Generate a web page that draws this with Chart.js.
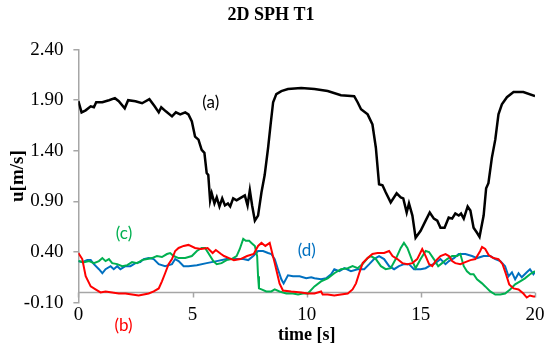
<!DOCTYPE html>
<html lang="en">
<head>
    <meta charset="UTF-8">
    <title>2D SPH T1</title>
    <script src="https://cdn.jsdelivr.net/npm/chart.js"></script>
    <style>
        body { margin: 0; background: #fff; }
        #wrap { width: 550px; height: 350px; }
    </style>
</head>
<body>
    <div id="wrap"><canvas id="chart"></canvas></div>

    <script>
        // (a) black
        const timeA = [0, 0.14, 0.32, 0.54, 0.68, 0.78, 1.05, 1.34, 1.6, 1.77, 2.03, 2.18, 2.5, 2.79, 3.11, 3.34, 3.52, 3.63, 3.83, 4.1,
            4.27, 4.46, 4.68, 4.82, 4.97, 5.11, 5.26, 5.4, 5.52, 5.62, 5.69, 5.77, 5.84, 5.96, 6.06, 6.18, 6.3, 6.42, 6.55, 6.65,
            6.78, 6.93, 7.07, 7.29, 7.41, 7.51, 7.61, 7.73, 7.87, 8.02, 8.16, 8.31, 8.42, 8.53, 8.67, 8.89, 9.18, 9.76, 10.34, 10.92,
            11.5, 12.08, 12.23, 12.38, 12.67, 12.88, 13.03, 13.17, 13.32, 13.46, 13.68, 13.94, 14.12, 14.23, 14.38, 14.48, 14.63, 14.77, 14.99, 15.21,
            15.39, 15.57, 15.72, 15.86, 16.04, 16.22, 16.37, 16.51, 16.66, 16.76, 16.88, 17.05, 17.17, 17.31, 17.46, 17.57, 17.75, 17.86, 17.96, 18.11,
            18.26, 18.4, 18.55, 18.77, 19.06, 19.49, 20];
        const valueA = [1.89, 1.78, 1.8, 1.84, 1.83, 1.88, 1.88, 1.9, 1.92, 1.89, 1.82, 1.9, 1.89, 1.87, 1.91, 1.84, 1.78, 1.83, 1.79, 1.74,
            1.78, 1.76, 1.78, 1.76, 1.69, 1.54, 1.51, 1.41, 1.38, 1.18, 1.16, 0.91, 0.98, 0.88, 0.94, 0.85, 0.93, 0.86, 0.88, 0.85,
            0.93, 0.91, 0.93, 0.96, 0.86, 1.01, 0.86, 0.71, 0.76, 0.99, 1.16, 1.43, 1.66, 1.88, 1.96, 1.99, 2.01, 2.02, 2.01, 1.99,
            1.95, 1.94, 1.88, 1.81, 1.76, 1.66, 1.43, 1.07, 1.06, 0.99, 0.89, 0.98, 0.94, 0.93, 0.79, 0.88, 0.76, 0.54, 0.61, 0.71,
            0.79, 0.73, 0.71, 0.64, 0.64, 0.74, 0.73, 0.78, 0.76, 0.78, 0.73, 0.85, 0.81, 0.64, 0.59, 0.55, 0.76, 1.03, 1.08, 1.33,
            1.51, 1.76, 1.86, 1.93, 1.98, 1.98, 1.94];

        // (b) red
        const timeB = [0, 0.17, 0.32, 0.54, 0.75, 0.97, 1.19, 1.48, 1.77, 2.06, 2.35, 2.64, 2.86, 3.08, 3.3, 3.52, 3.66, 3.8, 3.95, 4.1,
            4.24, 4.39, 4.61, 4.82, 5.11, 5.37, 5.66, 5.88, 6.02, 6.25, 6.38, 6.6, 6.81, 7.1, 7.39, 7.68, 7.87, 8.02, 8.19, 8.38,
            8.6, 8.81, 8.96, 9.32, 9.76, 10.05, 10.34, 10.63, 10.7, 10.92, 11.21, 11.5, 11.8, 12.01, 12.16, 12.3, 12.45, 12.67, 12.88, 13.1,
            13.39, 13.61, 13.76, 13.97, 14.19, 14.41, 14.63, 14.84, 15.06, 15.21, 15.36, 15.5, 15.64, 15.86, 16.08, 16.23, 16.37, 16.51, 16.73, 16.95,
            17.17, 17.39, 17.6, 17.68, 17.82, 17.97, 18.18, 18.4, 18.58, 18.73, 18.87, 19.06, 19.28, 19.49, 19.64, 19.78, 19.93, 20];
        const valueB = [0.39, 0.33, 0.16, 0.06, 0.03, 0.0, 0.01, 0.0, -0.01, -0.01, -0.02, -0.03, -0.02, -0.01, 0.01, 0.04, 0.11, 0.19, 0.28, 0.33,
            0.41, 0.44, 0.46, 0.47, 0.44, 0.43, 0.44, 0.39, 0.42, 0.38, 0.36, 0.34, 0.32, 0.33, 0.36, 0.38, 0.46, 0.49, 0.46, 0.49,
            0.29, 0.09, 0.02, 0.01, 0.0, -0.01, -0.01, 0.01, -0.02, -0.02, -0.03, -0.02, -0.01, 0.03, 0.09, 0.19, 0.29, 0.34, 0.38, 0.39,
            0.39, 0.41, 0.36, 0.33, 0.29, 0.28, 0.29, 0.33, 0.43, 0.36, 0.28, 0.26, 0.31, 0.36, 0.38, 0.36, 0.31, 0.29, 0.28, 0.3,
            0.32, 0.33, 0.41, 0.45, 0.43, 0.37, 0.34, 0.33, 0.28, 0.18, 0.08, 0.04, 0.03, -0.01, -0.05, -0.03, -0.04, -0.04];

        // (c) green
        const timeC = [0, 0.25, 0.47, 0.68, 0.9, 1.05, 1.19, 1.34, 1.48, 1.7, 1.92, 2.14, 2.35, 2.57, 2.79, 3.01, 3.22, 3.44, 3.66, 3.88,
            4.02, 4.17, 4.39, 4.68, 4.97, 5.19, 5.4, 5.55, 5.69, 5.91, 6.06, 6.27, 6.49, 6.71, 6.93, 7.07, 7.22, 7.33, 7.48, 7.58,
            7.73, 7.83, 7.87, 7.91, 8.02, 8.23, 8.45, 8.6, 8.81, 9.11, 9.4, 9.62, 9.83, 10.05, 10.34, 10.63, 10.92, 11.21, 11.5, 11.8,
            12.01, 12.23, 12.45, 12.67, 12.81, 13.03, 13.25, 13.46, 13.68, 13.9, 14.12, 14.26, 14.41, 14.63, 14.77, 14.99, 15.21, 15.36, 15.57, 15.76,
            15.93, 16.15, 16.37, 16.59, 16.73, 16.88, 17.02, 17.17, 17.31, 17.46, 17.68, 17.82, 18.04, 18.26, 18.48, 18.69, 18.91, 19.13, 19.35, 19.56,
            19.78, 20];
        const valueC = [0.31, 0.3, 0.31, 0.29, 0.31, 0.34, 0.31, 0.33, 0.29, 0.28, 0.26, 0.27, 0.3, 0.29, 0.32, 0.33, 0.34, 0.36, 0.35, 0.38,
            0.39, 0.36, 0.34, 0.34, 0.36, 0.41, 0.44, 0.44, 0.39, 0.31, 0.28, 0.29, 0.32, 0.33, 0.36, 0.43, 0.53, 0.51, 0.51, 0.49,
            0.46, 0.36, 0.16, 0.04, 0.03, 0.01, 0.01, 0.03, 0.01, -0.01, -0.01, -0.02, -0.01, -0.01, 0.06, 0.11, 0.14, 0.19, 0.23, 0.24,
            0.26, 0.24, 0.28, 0.34, 0.36, 0.33, 0.26, 0.23, 0.24, 0.33, 0.44, 0.49, 0.44, 0.31, 0.24, 0.33, 0.41, 0.4, 0.33, 0.26,
            0.29, 0.33, 0.36, 0.36, 0.38, 0.26, 0.21, 0.18, 0.18, 0.13, 0.09, 0.06, 0.01, -0.02, -0.02, -0.01, 0.03, 0.08, 0.11, 0.14,
            0.18, 0.21];

        // (d) blue
        const timeD = [0, 0.17, 0.39, 0.54, 0.68, 0.9, 1.05, 1.19, 1.41, 1.55, 1.7, 1.84, 2.06, 2.28, 2.5, 2.71, 2.86, 3.08, 3.3, 3.52,
            3.8, 4.1, 4.24, 4.39, 4.61, 4.82, 5.19, 5.62, 6.06, 6.49, 6.93, 7.22, 7.44, 7.66, 7.87, 8.09, 8.31, 8.45, 8.6, 8.74,
            8.89, 8.99, 9.18, 9.4, 9.69, 9.98, 10.2, 10.34, 10.63, 10.85, 11.07, 11.21, 11.43, 11.65, 11.94, 12.23, 12.52, 12.74, 12.95, 13.17,
            13.39, 13.61, 13.83, 14.04, 14.26, 14.48, 14.7, 14.99, 15.21, 15.36, 15.64, 15.86, 16.08, 16.23, 16.45, 16.66, 16.95, 17.24, 17.46, 17.75,
            18.04, 18.26, 18.48, 18.69, 18.84, 18.99, 19.13, 19.28, 19.42, 19.64, 19.78, 19.93, 20];
        const valueD = [0.31, 0.3, 0.32, 0.32, 0.28, 0.23, 0.19, 0.23, 0.26, 0.23, 0.26, 0.23, 0.26, 0.26, 0.29, 0.3, 0.33, 0.34, 0.33, 0.28,
            0.26, 0.28, 0.33, 0.31, 0.26, 0.26, 0.27, 0.29, 0.31, 0.33, 0.33, 0.33, 0.32, 0.36, 0.41, 0.41, 0.39, 0.38, 0.33, 0.23,
            0.13, 0.09, 0.17, 0.16, 0.16, 0.14, 0.15, 0.14, 0.13, 0.14, 0.18, 0.23, 0.21, 0.24, 0.21, 0.23, 0.23, 0.28, 0.33, 0.36,
            0.33, 0.26, 0.23, 0.26, 0.28, 0.28, 0.23, 0.23, 0.24, 0.26, 0.29, 0.33, 0.28, 0.31, 0.34, 0.38, 0.38, 0.36, 0.34, 0.36,
            0.36, 0.33, 0.31, 0.26, 0.16, 0.2, 0.13, 0.19, 0.15, 0.2, 0.23, 0.18, 0.2];

        const yTicks = [-0.10, 0.40, 0.90, 1.40, 1.90, 2.40];
        const xTicks = [0, 5, 10, 15, 20];

        // curve labels: [text, colour, x (s), y (m/s)]
        const curveLabels = [
            ['(a)', '#000000', 5.8, 1.88],
            ['(b)', '#ff0000', 1.98, -0.33],
            ['(c)', '#00b050', 2.0, 0.58],
            ['(d)', '#0070c0', 10.0, 0.41]
        ];

        const toPoints = (xs, ys) => xs.map((x, i) => ({ x: x, y: ys[i] }));
        const axisGray = '#a6a6a6';
        const serif = "'Liberation Serif', 'Times New Roman', serif";

        // gray zero line with small tick marks, plus the (a)-(d) labels
        const extras = {
            id: 'extras',
            beforeDatasetsDraw(chart) {
                const { ctx, chartArea, scales } = chart;
                const y0 = Math.round(scales.y.getPixelForValue(0)) + 0.5;
                ctx.save();
                ctx.strokeStyle = axisGray;
                ctx.lineWidth = 1.5;
                ctx.beginPath();
                ctx.moveTo(chartArea.left, y0);
                ctx.lineTo(chartArea.right, y0);
                xTicks.forEach(t => {
                    const x = Math.round(scales.x.getPixelForValue(t)) + 0.5;
                    ctx.moveTo(x, y0);
                    ctx.lineTo(x, y0 + 5);
                });
                ctx.stroke();
                ctx.restore();
            },
            afterDraw(chart) {
                const { ctx, scales } = chart;
                ctx.save();
                ctx.font = "17px Lato, 'Liberation Sans', sans-serif";
                ctx.textAlign = 'center';
                ctx.textBaseline = 'middle';
                curveLabels.forEach(([txt, col, x, y]) => {
                    ctx.fillStyle = col;
                    ctx.fillText(txt, scales.x.getPixelForValue(x), scales.y.getPixelForValue(y));
                });
                ctx.restore();
            }
        };

        new Chart(document.getElementById('chart'), {
            type: 'line',
            data: {
                datasets: [
                    { label: '(a)', data: toPoints(timeA, valueA), borderColor: '#000000', borderWidth: 2.5 },
                    { label: '(b)', data: toPoints(timeB, valueB), borderColor: '#ff0000', borderWidth: 2 },
                    { label: '(c)', data: toPoints(timeC, valueC), borderColor: '#00b050', borderWidth: 2 },
                    { label: '(d)', data: toPoints(timeD, valueD), borderColor: '#0070c0', borderWidth: 2 }
                ]
            },
            options: {
                responsive: true,
                maintainAspectRatio: false,
                animation: false,
                layout: { padding: { top: 4, right: 15, bottom: 4, left: 7 } },
                elements: { point: { radius: 0 }, line: { tension: 0 } },
                plugins: {
                    legend: { display: false },
                    tooltip: { enabled: false },
                    title: {
                        display: true,
                        text: '2D SPH T1',
                        color: '#000',
                        font: { family: serif, size: 18, weight: 'bold' },
                        padding: { top: 1, bottom: 23 }
                    }
                },
                scales: {
                    x: {
                        type: 'linear',
                        min: 0,
                        max: 20,
                        afterBuildTicks: axis => { axis.ticks = xTicks.map(v => ({ value: v })); },
                        grid: { display: false, drawTicks: false },
                        border: { display: false },
                        ticks: { color: '#000', padding: 1, maxRotation: 0, font: { family: serif, size: 19 } },
                        title: {
                            display: true,
                            text: 'time [s]',
                            color: '#000',
                            font: { family: serif, size: 18, weight: 'bold' },
                            padding: { top: -3, bottom: 0 }
                        }
                    },
                    y: {
                        min: -0.1,
                        max: 2.4,
                        afterBuildTicks: axis => { axis.ticks = yTicks.map(v => ({ value: v })); },
                        grid: { drawOnChartArea: false, color: axisGray, tickLength: 5, lineWidth: 1.5 },
                        border: { color: axisGray, width: 1.5 },
                        ticks: {
                            color: '#000',
                            padding: 10,
                            font: { family: serif, size: 19 },
                            callback: v => v.toFixed(2)
                        },
                        title: {
                            display: true,
                            text: 'u[m/s]',
                            color: '#000',
                            font: { family: serif, size: 19, weight: 'bold' },
                            padding: { top: 0, bottom: -16 }
                        }
                    }
                }
            },
            plugins: [extras]
        });
    </script>
</body>
</html>
